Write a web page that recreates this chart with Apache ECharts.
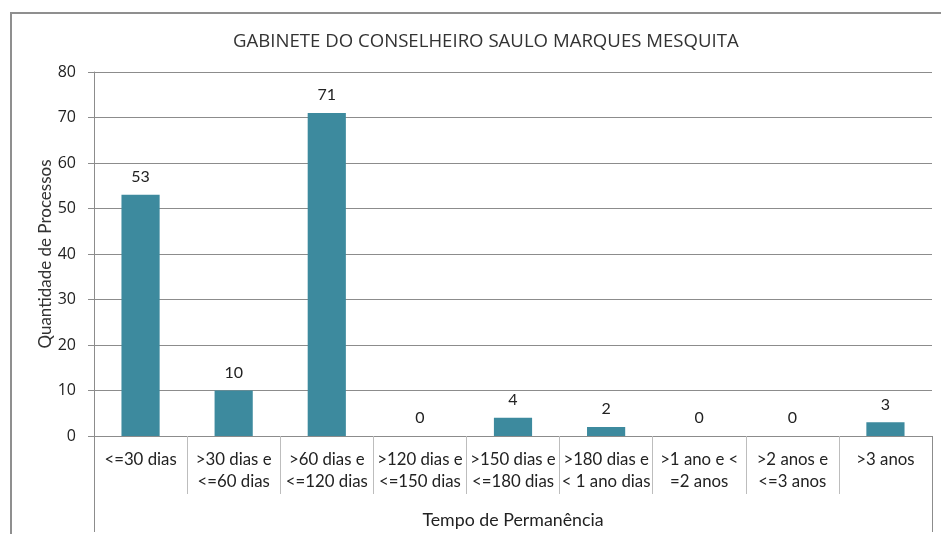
<!DOCTYPE html>
<html><head><meta charset="utf-8">
<script src="https://cdn.jsdelivr.net/npm/echarts@6/dist/echarts.min.js"></script>
<style>
html,body{margin:0;padding:0;background:#fff;overflow:hidden;}
#frame{position:absolute;left:10px;top:12px;width:1000px;height:600px;border:2px solid #8f8f8f;box-sizing:border-box;}
#chart{position:absolute;left:0;top:0;width:941px;height:534px;}
</style></head>
<body>
<div id="frame"></div>
<div id="chart"></div>
<script>
const titleText = 'GABINETE DO CONSELHEIRO SAULO MARQUES MESQUITA';
const categories = ['<=30 dias', '>30 dias e\n<=60 dias', '>60 dias e\n<=120 dias', '>120 dias e\n<=150 dias', '>150 dias e\n<=180 dias', '>180 dias e\n< 1 ano dias', '>1 ano e <\n=2 anos', '>2 anos e\n<=3 anos', '>3 anos'];
const values = [53, 10, 71, 0, 4, 2, 0, 0, 3];
const yTicks = {min: 0, max: 80, interval: 10};
const yName = 'Quantidade de Processos';
const xName = 'Tempo de Permanência';

const chart = echarts.init(document.getElementById('chart'), null, {renderer: 'canvas'});
const lab = "Lato, 'Liberation Sans', sans-serif";
chart.setOption({
  animation: false,
  title: {text: titleText, left: 228, top: 27,
    textStyle: {fontFamily: "'Open Sans', sans-serif", fontSize: 18.6, fontWeight: 'normal', color: '#333'}},
  grid: {left: 94, right: 9, top: 72, bottom: 98},
  xAxis: [{
    type: 'category', data: categories, position: 'bottom',
    axisLine: {show: true, lineStyle: {color: '#8c8c8c', width: 1}},
    axisTick: {show: true, length: 58, lineStyle: {color: '#bdbdbd'}},
    axisLabel: {margin: 13, fontFamily: lab, fontSize: 16.8, color: '#222', lineHeight: 22, interval: 0},
    name: xName, nameLocation: 'middle', nameGap: 75, nameMoveOverlap: false,
    nameTextStyle: {fontFamily: lab, fontSize: 17.8, color: '#222'}
  }, {
    type: 'category', data: [''], position: 'bottom',
    axisLine: {show: false},
    axisTick: {show: true, length: 96, lineStyle: {color: '#8c8c8c'}},
    axisLabel: {show: false}
  }],
  yAxis: {
    type: 'value', min: yTicks.min, max: yTicks.max, interval: yTicks.interval,
    axisLine: {show: true, lineStyle: {color: '#8c8c8c'}},
    axisTick: {show: true, length: 6, lineStyle: {color: '#8c8c8c'}},
    splitLine: {show: true, lineStyle: {color: '#8c8c8c'}},
    axisLabel: {margin: 18, fontFamily: "'Open Sans', sans-serif", fontSize: 16, color: '#222'},
    name: yName, nameLocation: 'middle', nameGap: 40, nameMoveOverlap: false,
    nameTextStyle: {fontFamily: lab, fontSize: 17, color: '#333'}
  },
  series: [{
    type: 'bar', data: values, barWidth: '41%', xAxisIndex: 0,
    itemStyle: {color: '#3D8A9E'},
    label: {show: true, position: 'top', distance: 10, fontFamily: lab, fontSize: 16, color: '#222'}
  }]
});
</script>
</body></html>
